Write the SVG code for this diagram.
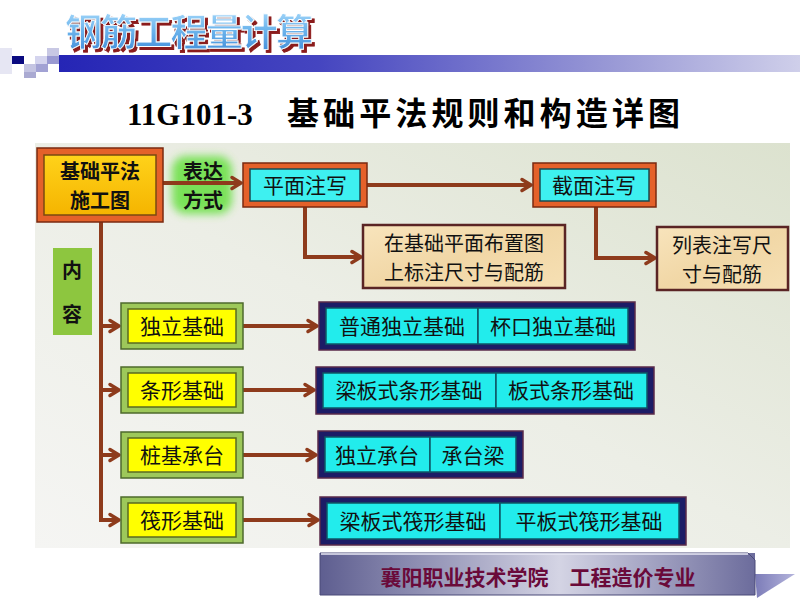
<svg xmlns="http://www.w3.org/2000/svg" width="800" height="600" viewBox="0 0 800 600">
<defs>
  <linearGradient id="bar" x1="0" y1="0" x2="1" y2="0">
    <stop offset="0" stop-color="#2525b5"/>
    <stop offset="0.35" stop-color="#4545c0"/>
    <stop offset="0.75" stop-color="#9a9ad6"/>
    <stop offset="1" stop-color="#cfcfea"/>
  </linearGradient>
  <linearGradient id="titleFill" x1="0" y1="0" x2="0" y2="1">
    <stop offset="0" stop-color="#b8e4ff"/>
    <stop offset="0.5" stop-color="#6cb4ec"/>
    <stop offset="1" stop-color="#3a86d6"/>
  </linearGradient>
  <linearGradient id="panel" x1="0" y1="1" x2="1" y2="0">
    <stop offset="0" stop-color="#f5f5f3"/>
    <stop offset="0.5" stop-color="#eceee6"/>
    <stop offset="1" stop-color="#dce2cf"/>
  </linearGradient>
  <linearGradient id="gold" x1="0" y1="0" x2="0" y2="1">
    <stop offset="0" stop-color="#ffd21a"/>
    <stop offset="1" stop-color="#f5b400"/>
  </linearGradient>
  <linearGradient id="tan" x1="0" y1="0" x2="1" y2="1">
    <stop offset="0" stop-color="#f8e4bc"/>
    <stop offset="0.5" stop-color="#f1d7a6"/>
    <stop offset="1" stop-color="#f6e0b4"/>
  </linearGradient>
  <linearGradient id="footer" x1="0" y1="0" x2="1" y2="0">
    <stop offset="0" stop-color="#5e5e90"/>
    <stop offset="0.55" stop-color="#d4d4e4"/>
    <stop offset="1" stop-color="#6c6c9c"/>
  </linearGradient>
  <linearGradient id="tri" x1="0" y1="0" x2="1" y2="0">
    <stop offset="0" stop-color="#7c7cb8"/>
    <stop offset="1" stop-color="#b4b4dc"/>
  </linearGradient>
  <filter id="glow" x="-50%" y="-50%" width="200%" height="200%">
    <feGaussianBlur stdDeviation="4"/>
  </filter>
  <filter id="shadow" x="-10%" y="-30%" width="120%" height="160%">
    <feOffset in="SourceAlpha" dx="3" dy="3" result="off"/>
    <feFlood flood-color="#8b1a1a"/>
    <feComposite in2="off" operator="in" result="sh"/>
    <feMerge><feMergeNode in="sh"/><feMergeNode in="SourceGraphic"/></feMerge>
  </filter>
  <marker id="arr" markerUnits="userSpaceOnUse" markerWidth="16" markerHeight="16" refX="12" refY="8" orient="auto">
    <path d="M3,2.5 L12,8 L3,13.5" fill="none" stroke="#8e3b1c" stroke-width="3.5" stroke-linecap="round" stroke-linejoin="round"/>
  </marker>
  <style>
    .cjk{font-family:"Noto Sans CJK SC","Noto Sans",sans-serif;}
    .conn{fill:none;stroke:#8e3b1c;stroke-width:4;}
    .orOut{fill:#e4612a;stroke:#7a2a10;stroke-width:1.5;}
    .cyIn{fill:#3ef0f0;stroke:#1a4a50;stroke-width:1.5;}
    .tan{fill:url(#tan);stroke:#5a2424;stroke-width:2.5;}
    .grOut{fill:#9dc85a;stroke:#4e6a2c;stroke-width:1.5;}
    .yeIn{fill:#ffff00;stroke:#5a6a20;stroke-width:1.5;}
    .nvOut{fill:#1c1c66;stroke:#5a2a4a;stroke-width:1.5;}
    .cell{fill:#22ecec;stroke:#0e5566;stroke-width:1.5;}
    .t{font-size:21px;fill:#111;text-anchor:middle;}
    .s{font-size:20px;}
    .b{font-weight:bold;}
  </style>
</defs>

<rect width="800" height="600" fill="#ffffff"/>

<!-- header decoration -->
<g id="header">
  <rect x="0" y="48" width="12" height="26" fill="#e6e6f3"/>
  <rect x="12" y="56" width="12" height="8" fill="#0a0a80"/>
  <rect x="35" y="56" width="12" height="8" fill="#d4d4ee"/>
  <rect x="47" y="48" width="12" height="8" fill="#c8c8e4"/>
  <rect x="47" y="56" width="12" height="8" fill="#9a9ad2"/>
  <rect x="24" y="64" width="12" height="8" fill="#c4c4e2"/>
  <rect x="36" y="64" width="12" height="8" fill="#a2a2d4"/>
  <rect x="24" y="72" width="12" height="6" fill="#aaaad2"/>
  <rect x="59" y="55" width="741" height="17" fill="url(#bar)"/>
  <text x="65" y="46" class="cjk b" font-size="37" fill="url(#titleFill)" stroke="#ffffff" stroke-width="0.8" textLength="248" filter="url(#shadow)">钢筋工程量计算</text>
  <text x="127" y="125" font-size="31" font-weight="bold" fill="#000"><tspan font-family="Liberation Serif, serif">11G101-3</tspan><tspan x="287" class="cjk" font-size="32" textLength="393">基础平法规则和构造详图</tspan></text>
</g>

<!-- background panel -->
<rect x="35" y="143" width="755" height="405" fill="url(#panel)"/>

<!-- connectors -->
<g id="connectors">
  <rect x="172" y="156" width="60" height="58" rx="14" fill="#66e040" filter="url(#glow)" opacity="0.85"/>
  <line class="conn" x1="163" y1="183" x2="241" y2="183" marker-end="url(#arr)"/>
  <line class="conn" x1="367" y1="185" x2="531" y2="185" marker-end="url(#arr)"/>
  <polyline class="conn" points="305,207 305,257 361,257" marker-end="url(#arr)"/>
  <polyline class="conn" points="596,207 596,258 655,258" marker-end="url(#arr)"/>
  <polyline class="conn" points="101,222 101,520 119,520" marker-end="url(#arr)"/>
  <line class="conn" x1="101" y1="326" x2="119" y2="326" marker-end="url(#arr)"/>
  <line class="conn" x1="101" y1="390" x2="119" y2="390" marker-end="url(#arr)"/>
  <line class="conn" x1="101" y1="455" x2="119" y2="455" marker-end="url(#arr)"/>
  <line class="conn" x1="243" y1="326" x2="317" y2="326" marker-end="url(#arr)"/>
  <line class="conn" x1="243" y1="390" x2="314" y2="390" marker-end="url(#arr)"/>
  <line class="conn" x1="243" y1="455" x2="316" y2="455" marker-end="url(#arr)"/>
  <line class="conn" x1="243" y1="520" x2="318" y2="520" marker-end="url(#arr)"/>
</g>

<g id="label-biaoda">
  <text class="cjk t b s"><tspan x="203" y="179">表达</tspan><tspan x="203" y="208">方式</tspan></text>
</g>

<g id="node-main">
  <rect class="orOut" x="37" y="148" width="126" height="74"/>
  <rect x="44" y="155" width="112" height="60" fill="url(#gold)" stroke="#7a4a10" stroke-width="1.5"/>
  <text class="cjk t b s"><tspan x="100" y="179">基础平法</tspan><tspan x="100" y="208">施工图</tspan></text>
</g>

<g id="node-pingmian">
  <rect class="orOut" x="243" y="163" width="124" height="44"/>
  <rect class="cyIn" x="250" y="169" width="110" height="32"/>
  <text x="305" y="193" class="cjk t">平面注写</text>
</g>

<g id="node-jiemian">
  <rect class="orOut" x="533" y="163" width="123" height="44"/>
  <rect class="cyIn" x="540" y="169" width="109" height="32"/>
  <text x="594" y="193" class="cjk t">截面注写</text>
</g>

<g id="node-pingmian-desc">
  <rect class="tan" x="363" y="225" width="202" height="63"/>
  <text class="cjk t s"><tspan x="464" y="251">在基础平面布置图</tspan><tspan x="464" y="280">上标注尺寸与配筋</tspan></text>
</g>

<g id="node-jiemian-desc">
  <rect class="tan" x="657" y="227" width="131" height="63"/>
  <text class="cjk t s"><tspan x="722" y="253">列表注写尺</tspan><tspan x="722" y="282">寸与配筋</tspan></text>
</g>

<g id="label-neirong">
  <rect x="53" y="248" width="39" height="87" fill="#8dc63f"/>
  <text x="72" y="278" class="cjk t b s">内</text>
  <text x="72" y="322" class="cjk t b s">容</text>
</g>

<g id="node-duli">
  <rect class="grOut" x="121" y="303" width="122" height="46"/>
  <rect class="yeIn" x="128" y="309" width="108" height="34"/>
  <text x="182" y="334" class="cjk t">独立基础</text>
</g>
<g id="node-tiaoxing">
  <rect class="grOut" x="121" y="367" width="122" height="46"/>
  <rect class="yeIn" x="128" y="373" width="108" height="34"/>
  <text x="182" y="398" class="cjk t">条形基础</text>
</g>
<g id="node-zhuangji">
  <rect class="grOut" x="121" y="432" width="122" height="46"/>
  <rect class="yeIn" x="128" y="438" width="108" height="34"/>
  <text x="182" y="463" class="cjk t">桩基承台</text>
</g>
<g id="node-faxing">
  <rect class="grOut" x="121" y="497" width="122" height="46"/>
  <rect class="yeIn" x="128" y="503" width="108" height="34"/>
  <text x="182" y="528" class="cjk t">筏形基础</text>
</g>

<g id="node-duli-types">
  <rect class="nvOut" x="319" y="302" width="316" height="48"/>
  <rect class="cell" x="326" y="308" width="152" height="36"/>
  <rect class="cell" x="478" y="308" width="150" height="36"/>
  <text x="402" y="334" class="cjk t">普通独立基础</text>
  <text x="553" y="334" class="cjk t">杯口独立基础</text>
</g>
<g id="node-tiaoxing-types">
  <rect class="nvOut" x="316" y="367" width="338" height="47"/>
  <rect class="cell" x="323" y="373" width="173" height="35"/>
  <rect class="cell" x="496" y="373" width="151" height="35"/>
  <text x="409" y="398" class="cjk t">梁板式条形基础</text>
  <text x="571" y="398" class="cjk t">板式条形基础</text>
</g>
<g id="node-zhuangji-types">
  <rect class="nvOut" x="318" y="431" width="205" height="47"/>
  <rect class="cell" x="325" y="437" width="105" height="35"/>
  <rect class="cell" x="430" y="437" width="86" height="35"/>
  <text x="377" y="463" class="cjk t">独立承台</text>
  <text x="473" y="463" class="cjk t">承台梁</text>
</g>
<g id="node-faxing-types">
  <rect class="nvOut" x="320" y="497" width="366" height="48"/>
  <rect class="cell" x="327" y="503" width="173" height="36"/>
  <rect class="cell" x="500" y="503" width="179" height="36"/>
  <text x="413" y="529" class="cjk t">梁板式筏形基础</text>
  <text x="589" y="529" class="cjk t">平板式筏形基础</text>
</g>

<!-- footer -->
<g id="footer">
  <polygon points="755,574 795,574 757,598" fill="url(#tri)"/>
  <rect x="320" y="553" width="435" height="42" fill="url(#footer)"/>
  <polygon points="320,553 748,553 755,560 755,595 320,595" fill="none" stroke="#4a4a78" stroke-width="1"/>
  <line x1="321" y1="554" x2="748" y2="554" stroke="#e8e8f4" stroke-width="1.5"/>
  <text x="538" y="585" class="cjk b" font-size="21" fill="#6a0a3a" text-anchor="middle">襄阳职业技术学院　工程造价专业</text>
</g>
</svg>
